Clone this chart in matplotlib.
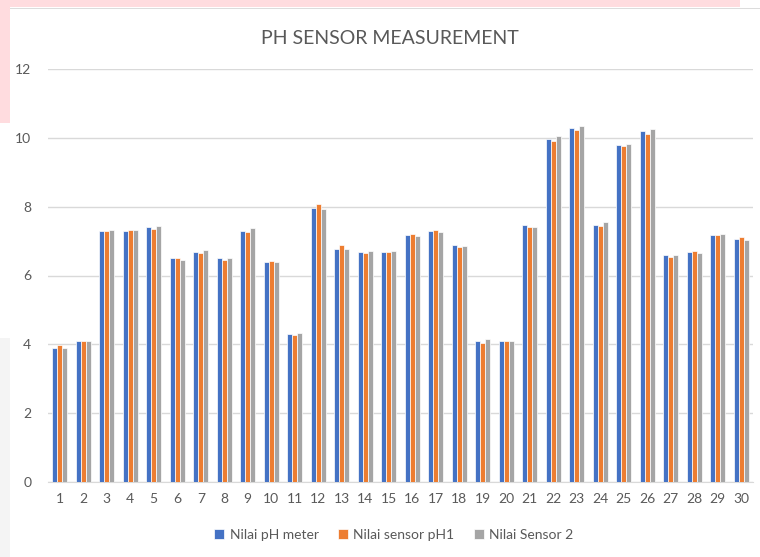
import numpy as np
import matplotlib
matplotlib.use("Agg")
from matplotlib import pyplot
from matplotlib.patches import Rectangle

# data
samples = list(range(1, 31))
ph_meter = [3.9, 4.1, 7.3, 7.3, 7.4, 6.5, 6.68, 6.5, 7.3, 6.4,
            4.3, 7.97, 6.78, 6.68, 6.68, 7.18, 7.3, 6.89, 4.1, 4.1,
            7.47, 9.98, 10.3, 7.47, 9.8, 10.2, 6.6, 6.67, 7.18, 7.07]
sensor_ph1 = [3.97, 4.1, 7.3, 7.33, 7.35, 6.5, 6.64, 6.46, 7.25, 6.43,
              4.26, 8.08, 6.89, 6.64, 6.68, 7.22, 7.33, 6.82, 4.05, 4.1,
              7.4, 9.9, 10.23, 7.44, 9.77, 10.12, 6.53, 6.71, 7.18, 7.13]
sensor_2 = [3.9, 4.1, 7.33, 7.33, 7.44, 6.46, 6.75, 6.5, 7.39, 6.4,
            4.34, 7.93, 6.78, 6.71, 6.71, 7.15, 7.26, 6.85, 4.15, 4.1,
            7.4, 10.05, 10.35, 7.54, 9.83, 10.27, 6.6, 6.64, 7.21, 7.03]
labels = ["Nilai pH meter", "Nilai sensor pH1", "Nilai Sensor 2"]
colors = ["#4472C4", "#ED7D31", "#A5A5A5"]

W, H = 760, 557
pyplot.rcParams['font.family'] = ['Lato', 'DejaVu Sans']
fig = pyplot.figure(figsize=(W / 100, H / 100), dpi=100)
fig.patch.set_facecolor("white")


def fig_rect(x0, y0, x1, y1, color):
    # rectangle given in pixel coords (origin top-left)
    fig.patches.append(Rectangle((x0 / W, 1 - y1 / H), (x1 - x0) / W, (y1 - y0) / H,
                                 transform=fig.transFigure, color=color, zorder=-5, lw=0))


# spreadsheet bits around the chart object
fig_rect(0, 0, 740, 7, "#ffdcdf")
fig_rect(0, 0, 10, 123, "#ffdcdf")
fig_rect(0, 338, 10, H, "#f4f4f4")
fig_rect(10, 7.5, W, 9, "#dcdcdc")

ax = fig.add_axes([48 / W, 1 - 482 / H, (753 - 48) / W, (482 - 69) / H])
x = np.array(samples)
bw = 0.215
for i, (vals, lab, col) in enumerate(zip([ph_meter, sensor_ph1, sensor_2], labels, colors)):
    ax.bar(x + (i - 1) * bw, vals, width=bw, color=col, edgecolor="white",
           linewidth=0.5, label=lab, zorder=3)

ax.set_xlim(0.5, 30.5)
ax.set_ylim(0, 12)
ax.set_yticks(range(0, 13, 2))
ax.set_xticks(samples)
ax.grid(axis="y", color="#d9d9d9", linewidth=1, zorder=0)
for s in ["top", "right", "left"]:
    ax.spines[s].set_visible(False)
ax.spines["bottom"].set_color("#d9d9d9")
ax.tick_params(axis="both", length=0, labelsize=10, labelcolor="#595959")
ax.tick_params(axis="y", pad=12)
ax.tick_params(axis="x", pad=8)

fig.text(390 / W, 1 - 38 / H, "PH SENSOR MEASUREMENT", ha="center", va="center",
         fontsize=14, color="#595959")

ax.legend(loc="center", bbox_to_anchor=(394 / W, 1 - 535 / H), bbox_transform=fig.transFigure,
          ncol=3, frameon=False, fontsize=10, handlelength=0.7, handleheight=0.7,
          handletextpad=0.4, columnspacing=1.4, labelcolor="#595959")

fig.savefig("out.png", dpi=100)
